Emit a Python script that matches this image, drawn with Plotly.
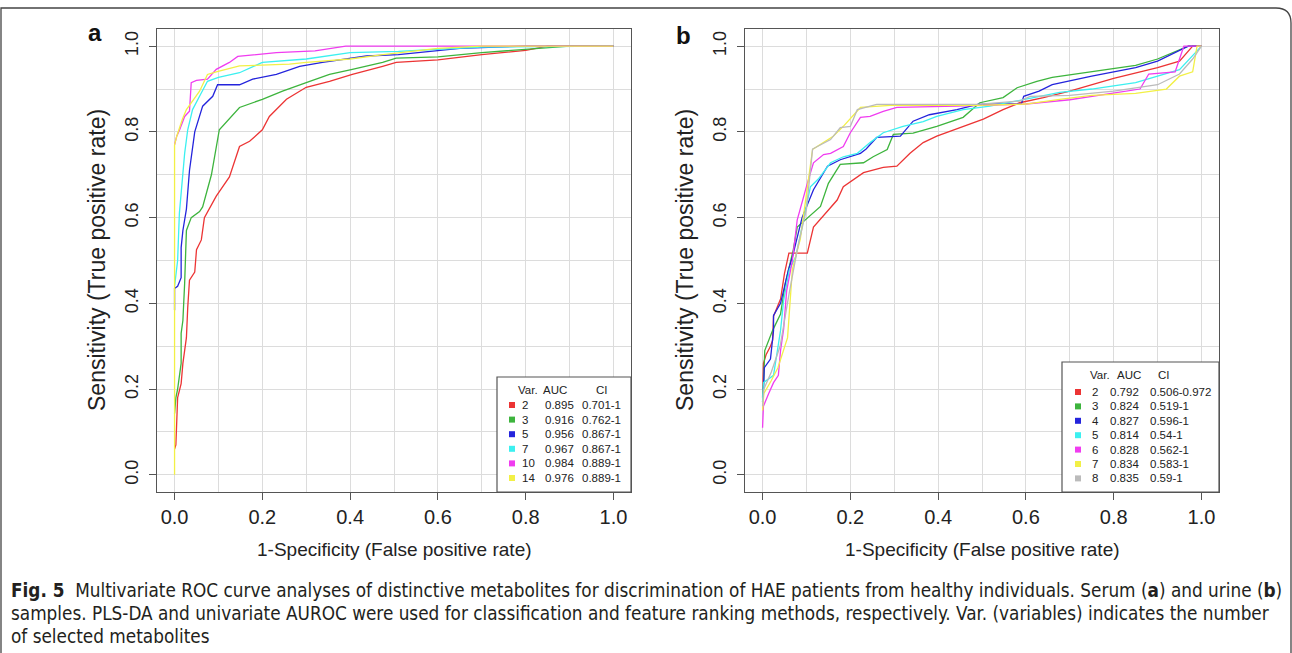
import plotly.graph_objects as go

W, H = 1292, 653

# ---------------- data: panel a (serum) ----------------
a_vars = ["2", "3", "5", "7", "10", "14"]
a_auc = ["0.895", "0.916", "0.956", "0.967", "0.984", "0.976"]
a_ci = ["0.701-1", "0.762-1", "0.867-1", "0.867-1", "0.889-1", "0.889-1"]

a_fpr_2 = [0, 0.003, 0.007, 0.015, 0.019, 0.027, 0.03, 0.034, 0.046, 0.05, 0.061, 0.068, 0.095, 0.125, 0.148, 0.171, 0.2, 0.216, 0.255, 0.3, 0.353, 0.405, 0.474, 0.505, 0.6, 0.7, 0.8, 0.85, 1.0]
a_tpr_2 = [0.06, 0.07, 0.18, 0.213, 0.26, 0.32, 0.39, 0.454, 0.473, 0.525, 0.548, 0.60, 0.65, 0.695, 0.766, 0.778, 0.805, 0.836, 0.876, 0.904, 0.918, 0.934, 0.953, 0.962, 0.968, 0.98, 0.99, 1.0, 1.0]
a_fpr_3 = [0, 0.003, 0.007, 0.011, 0.015, 0.015, 0.019, 0.023, 0.027, 0.038, 0.057, 0.064, 0.084, 0.102, 0.148, 0.2, 0.246, 0.3, 0.353, 0.405, 0.474, 0.505, 0.6, 0.7, 0.8, 0.9, 1.0]
a_tpr_3 = [0.143, 0.18, 0.20, 0.236, 0.26, 0.33, 0.36, 0.447, 0.57, 0.60, 0.614, 0.625, 0.70, 0.805, 0.857, 0.876, 0.895, 0.915, 0.934, 0.946, 0.962, 0.972, 0.975, 0.985, 0.993, 1.0, 1.0]
a_fpr_5 = [0, 0, 0.007, 0.015, 0.015, 0.019, 0.027, 0.034, 0.046, 0.064, 0.087, 0.098, 0.148, 0.178, 0.232, 0.285, 0.337, 0.437, 0.51, 0.65, 0.8, 1.0]
a_tpr_5 = [0.384, 0.435, 0.44, 0.46, 0.53, 0.57, 0.62, 0.71, 0.80, 0.86, 0.883, 0.91, 0.91, 0.923, 0.934, 0.953, 0.962, 0.977, 0.98, 0.995, 1.0, 1.0]
a_fpr_7 = [0, 0.004, 0.007, 0.011, 0.023, 0.03, 0.041, 0.057, 0.075, 0.1, 0.148, 0.2, 0.3, 0.4, 0.51, 0.7, 1.0]
a_tpr_7 = [0.44, 0.47, 0.50, 0.61, 0.75, 0.805, 0.852, 0.883, 0.918, 0.927, 0.938, 0.962, 0.97, 0.985, 0.988, 0.998, 1.0]
a_fpr_10 = [0, 0.005, 0.012, 0.023, 0.034, 0.038, 0.05, 0.075, 0.095, 0.125, 0.144, 0.232, 0.32, 0.39, 0.5, 1.0]
a_tpr_10 = [0.77, 0.79, 0.806, 0.836, 0.848, 0.915, 0.92, 0.923, 0.946, 0.962, 0.976, 0.985, 0.989, 1.0, 1.0, 1.0]
a_fpr_14 = [0, 0, 0.005, 0.018, 0.027, 0.038, 0.057, 0.075, 0.095, 0.148, 0.262, 0.3, 0.4, 0.475, 0.6, 0.7, 1.0]
a_tpr_14 = [0, 0.77, 0.79, 0.83, 0.852, 0.868, 0.895, 0.934, 0.94, 0.954, 0.958, 0.962, 0.97, 0.98, 0.995, 1.0, 1.0]

# ---------------- data: panel b (urine) ----------------
b_vars = ["2", "3", "4", "5", "6", "7", "8"]
b_auc = ["0.792", "0.824", "0.827", "0.814", "0.828", "0.834", "0.835"]
b_ci = ["0.506-0.972", "0.519-1", "0.596-1", "0.54-1", "0.562-1", "0.583-1", "0.59-1"]

b_fpr_2 = [0, 0.002, 0.008, 0.018, 0.023, 0.025, 0.041, 0.05, 0.06, 0.102, 0.116, 0.148, 0.17, 0.184, 0.207, 0.23, 0.275, 0.306, 0.336, 0.366, 0.397, 0.457, 0.503, 0.548, 0.586, 0.64, 0.7, 0.8, 0.9, 0.95, 0.98, 1.0]
b_tpr_2 = [0.18, 0.26, 0.28, 0.30, 0.314, 0.37, 0.41, 0.47, 0.517, 0.517, 0.578, 0.614, 0.641, 0.672, 0.688, 0.705, 0.717, 0.72, 0.75, 0.775, 0.79, 0.813, 0.83, 0.852, 0.868, 0.88, 0.895, 0.925, 0.95, 0.965, 1.0, 1.0]
b_fpr_3 = [0, 0.002, 0.005, 0.023, 0.041, 0.052, 0.07, 0.079, 0.132, 0.15, 0.177, 0.23, 0.252, 0.284, 0.298, 0.343, 0.397, 0.457, 0.495, 0.548, 0.58, 0.625, 0.66, 0.75, 0.85, 0.9, 0.97, 1.0]
b_tpr_3 = [0.17, 0.20, 0.29, 0.337, 0.375, 0.447, 0.525, 0.578, 0.626, 0.68, 0.724, 0.728, 0.742, 0.759, 0.794, 0.797, 0.813, 0.834, 0.868, 0.88, 0.903, 0.918, 0.927, 0.94, 0.955, 0.97, 1.0, 1.0]
b_fpr_4 = [0, 0.002, 0.004, 0.018, 0.025, 0.025, 0.041, 0.048, 0.059, 0.068, 0.09, 0.116, 0.148, 0.177, 0.223, 0.236, 0.26, 0.314, 0.343, 0.38, 0.443, 0.49, 0.59, 0.595, 0.63, 0.66, 0.75, 0.85, 0.9, 0.97, 1.0]
b_tpr_4 = [0.2, 0.2, 0.25, 0.27, 0.337, 0.372, 0.40, 0.43, 0.478, 0.508, 0.60, 0.665, 0.72, 0.735, 0.75, 0.76, 0.787, 0.79, 0.825, 0.84, 0.852, 0.864, 0.866, 0.883, 0.895, 0.91, 0.93, 0.95, 0.965, 1.0, 1.0]
b_fpr_5 = [0, 0.002, 0.025, 0.041, 0.048, 0.061, 0.076, 0.109, 0.127, 0.155, 0.184, 0.216, 0.245, 0.275, 0.32, 0.366, 0.397, 0.457, 0.518, 0.58, 0.677, 0.75, 0.85, 0.95, 1.0]
b_tpr_5 = [0.17, 0.215, 0.232, 0.337, 0.407, 0.478, 0.51, 0.672, 0.69, 0.728, 0.742, 0.75, 0.775, 0.798, 0.813, 0.824, 0.836, 0.852, 0.86, 0.872, 0.892, 0.9, 0.915, 0.945, 1.0]
b_fpr_6 = [0, 0.002, 0.014, 0.025, 0.036, 0.041, 0.048, 0.055, 0.068, 0.079, 0.102, 0.116, 0.139, 0.155, 0.184, 0.2, 0.223, 0.245, 0.275, 0.306, 0.443, 0.6, 0.7, 0.8, 0.86, 0.88, 0.94, 0.95, 0.96, 1.0]
b_tpr_6 = [0.11, 0.16, 0.19, 0.215, 0.232, 0.29, 0.34, 0.43, 0.50, 0.595, 0.68, 0.728, 0.747, 0.75, 0.766, 0.798, 0.834, 0.836, 0.848, 0.857, 0.86, 0.865, 0.875, 0.89, 0.9, 0.935, 0.94, 0.97, 1.0, 1.0]
b_fpr_7 = [0, 0.003, 0.02, 0.035, 0.057, 0.068, 0.086, 0.105, 0.114, 0.161, 0.184, 0.223, 0.291, 0.49, 0.6, 0.677, 0.75, 0.85, 0.92, 0.95, 0.98, 0.99, 1.0]
b_tpr_7 = [0.15, 0.19, 0.22, 0.25, 0.32, 0.48, 0.55, 0.70, 0.759, 0.79, 0.813, 0.857, 0.862, 0.862, 0.865, 0.876, 0.885, 0.89, 0.9, 0.93, 0.94, 1.0, 1.0]
b_fpr_8 = [0, 0.003, 0.02, 0.04, 0.06, 0.08, 0.1, 0.114, 0.155, 0.177, 0.2, 0.216, 0.26, 0.49, 0.586, 0.61, 0.7, 0.8, 0.9, 0.95, 0.98, 1.0]
b_tpr_8 = [0.16, 0.2, 0.24, 0.3, 0.42, 0.53, 0.62, 0.76, 0.782, 0.81, 0.813, 0.852, 0.864, 0.864, 0.872, 0.883, 0.885, 0.895, 0.91, 0.935, 0.97, 1.0]

tick_vals = [0, 0.2, 0.4, 0.6, 0.8, 1.0]
tick_text = ["0.0", "0.2", "0.4", "0.6", "0.8", "1.0"]
grid_minor = [0.1, 0.3, 0.5, 0.7, 0.9]

x_title = "1-Specificity (False positive rate)"
y_title = "Sensitivity (True positive rate)"
caption_lines = [
    "<b>Fig. 5</b>  Multivariate ROC curve analyses of distinctive metabolites for discrimination of HAE patients from healthy individuals. Serum (<b>a</b>) and urine (<b>b</b>)",
    "samples. PLS-DA and univariate AUROC were used for classification and feature ranking methods, respectively. Var. (variables) indicates the number",
    "of selected metabolites",
]

# ---------------- styling ----------------
colors_a = ["#EC3434", "#3DB43D", "#2424DC", "#3CF0F0", "#F03CF0", "#F2F046"]
colors_b = ["#EC3434", "#3DB43D", "#2424DC", "#3CF0F0", "#F03CF0", "#F2F046", "#BBBBBB"]
FONT = "Liberation Sans"
CAPFONT = "DejaVu Sans Condensed"


def px(x):
    return x / W


def py(y):
    return 1 - y / H


fig = go.Figure()

a_curves = [(a_fpr_2, a_tpr_2), (a_fpr_3, a_tpr_3), (a_fpr_5, a_tpr_5),
            (a_fpr_7, a_tpr_7), (a_fpr_10, a_tpr_10), (a_fpr_14, a_tpr_14)]
b_curves = [(b_fpr_2, b_tpr_2), (b_fpr_3, b_tpr_3), (b_fpr_4, b_tpr_4), (b_fpr_5, b_tpr_5),
            (b_fpr_6, b_tpr_6), (b_fpr_7, b_tpr_7), (b_fpr_8, b_tpr_8)]

for (fx, ty), c in zip(a_curves, colors_a):
    fig.add_trace(go.Scatter(x=fx, y=ty, mode="lines", line=dict(color=c, width=1.3),
                             xaxis="x", yaxis="y", showlegend=False, hoverinfo="skip"))
for (fx, ty), c in zip(b_curves, colors_b):
    fig.add_trace(go.Scatter(x=fx, y=ty, mode="lines", line=dict(color=c, width=1.3),
                             xaxis="x2", yaxis="y2", showlegend=False, hoverinfo="skip"))

axis_common = dict(
    range=[-0.04, 1.04], showline=True, mirror=True, linecolor="#555555", linewidth=1.3,
    ticks="outside", ticklen=7, tickcolor="#555555", tickwidth=1,
    tickvals=tick_vals, ticktext=tick_text,
    showgrid=True, gridcolor="#DCDCDC", gridwidth=1,
    minor=dict(tickvals=grid_minor, showgrid=True, gridcolor="#DCDCDC", gridwidth=1, ticks=""),
    zeroline=False, fixedrange=True,
)
ydom = [(H - 492) / H, (H - 29) / H]
xfont = dict(family=FONT, size=20, color="#222222")
yfont = dict(family=FONT, size=18, color="#222222")

fig.update_layout(
    width=W, height=H, margin=dict(l=0, r=0, t=0, b=0),
    paper_bgcolor="white", plot_bgcolor="white",
    xaxis=dict(domain=[px(157), px(631)], anchor="y", tickfont=xfont, **axis_common),
    yaxis=dict(domain=ydom, anchor="x", tickfont=yfont, tickangle=-90, ticklabelstandoff=4,
               **axis_common),
    xaxis2=dict(domain=[px(745), px(1219)], anchor="y2", tickfont=xfont, **axis_common),
    yaxis2=dict(domain=ydom, anchor="x2", tickfont=yfont, tickangle=-90, ticklabelstandoff=4,
                **axis_common),
)

ann = []
shapes = []

# axis titles and panel letters
for xc, ytx, letter, lx, ly in [(394.5, 97, "a", 95, 32), (982, 685, "b", 683, 35)]:
    ann.append(dict(x=px(xc), y=py(549), xref="paper", yref="paper", text=x_title,
                    showarrow=False, font=dict(family=FONT, size=19, color="#222222"),
                    xanchor="center", yanchor="middle"))
    ann.append(dict(x=px(ytx), y=py(260), xref="paper", yref="paper", text=y_title,
                    showarrow=False, textangle=-90, font=dict(family=FONT, size=23, color="#222222"),
                    xanchor="center", yanchor="middle"))
    ann.append(dict(x=px(lx), y=py(ly), xref="paper", yref="paper", text="<b>%s</b>" % letter,
                    showarrow=False, font=dict(family=FONT, size=24, color="#111111"),
                    xanchor="center", yanchor="middle"))

# legends
legfont = dict(family=FONT, size=11.5, color="#222222")


def legend(box, header_y, row0, dy, mx, cols, vars_, aucs, cis, colors):
    x0, y0, x1, y1 = box
    shapes.append(dict(type="rect", xref="paper", yref="paper", x0=px(x0), x1=px(x1),
                       y0=py(y1), y1=py(y0), line=dict(color="#555555", width=1.2),
                       fillcolor="white", layer="above"))
    for t, cx in zip(["Var.", "AUC", "CI"], cols[3:]):
        ann.append(dict(x=px(cx), y=py(header_y), xref="paper", yref="paper", text=t,
                        showarrow=False, font=legfont, xanchor="left", yanchor="middle"))
    for i, (v, a, c, col) in enumerate(zip(vars_, aucs, cis, colors)):
        yy = row0 + dy * i
        shapes.append(dict(type="rect", xref="paper", yref="paper", x0=px(mx - 3), x1=px(mx + 3),
                           y0=py(yy + 3), y1=py(yy - 3), line=dict(width=0), fillcolor=col,
                           layer="above"))
        for t, cx in zip([v, a, c], cols[:3]):
            ann.append(dict(x=px(cx), y=py(yy), xref="paper", yref="paper", text=t,
                            showarrow=False, font=legfont, xanchor="left", yanchor="middle"))


legend((497, 377, 631, 492), 390, 405, 14.6, 512, [520, 543, 580, 516, 541, 594],
       a_vars, a_auc, a_ci, colors_a)
legend((1062, 362, 1219, 492), 375, 392, 14.4, 1078, [1090, 1108, 1148, 1088, 1115, 1156],
       b_vars, b_auc, b_ci, colors_b)

# caption
cap_font = dict(family=CAPFONT, size=18.8, color="#231f20")
for i, line in enumerate(caption_lines):
    ann.append(dict(x=px(9), y=py(590 + 23 * i), xref="paper", yref="paper", text=line,
                    showarrow=False, font=cap_font, xanchor="left", yanchor="middle"))

# outer frame with rounded top-right corner
frame = "M %f,%f L %f,%f L %f,%f Q %f,%f %f,%f L %f,%f" % (
    px(1), py(653), px(1), py(8), px(1276), py(8), px(1291), py(8), px(1291), py(23),
    px(1291), py(653))
shapes.append(dict(type="path", xref="paper", yref="paper", path=frame,
                   line=dict(color="#444444", width=1.3)))

fig.update_layout(annotations=ann, shapes=shapes)
fig.write_html("out.html", config={"displayModeBar": False},
               post_script="document.body.style.margin='0';document.body.style.overflow='hidden';")
